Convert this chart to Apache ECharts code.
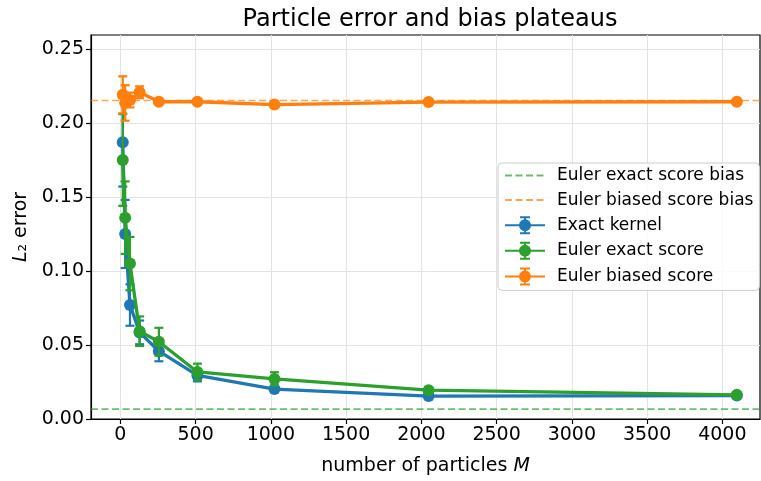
<!DOCTYPE html>
<html>
<head>
<meta charset="utf-8">
<script src="https://cdn.jsdelivr.net/npm/echarts@6/dist/echarts.min.js"></script>
<style>
  html, body { margin: 0; padding: 0; background: #fff; }
  #chart { width: 761px; height: 481px; }
</style>
</head>
<body>
<div id="chart"></div>
<script>
// values
const particles = [16, 32, 64, 128, 256, 512, 1024, 2048, 4096]
const exactKernel = [0.187, 0.125, 0.077, 0.0585, 0.0458, 0.0294, 0.0202, 0.0155, 0.0158]
const exactKernelErr = [0.030, 0.023, 0.014, 0.008, 0.0068, 0.004, 0.002, 0.0012, 0.0015]
const eulerExact = [0.175, 0.136, 0.105, 0.0593, 0.0522, 0.0318, 0.0271, 0.0195, 0.0163]
const eulerExactErr = [0.031, 0.0245, 0.018, 0.010, 0.0094, 0.0056, 0.0045, 0.002, 0.0018]
const eulerBiased = [0.219, 0.2135, 0.2155, 0.2207, 0.2143, 0.2143, 0.2124, 0.2141, 0.2143]
const eulerBiasedErr = [0.0125, 0.012, 0.005, 0.004, 0.0015, 0.0015, 0.001, 0.001, 0.001]
const exactScoreBias = 0.0067
const biasedScoreBias = 0.2152
const xRange = [-195, 4250]
const yRange = [0, 0.2594]
const xTicks = [0, 500, 1000, 1500, 2000, 2500, 3000, 3500, 4000]
const yTicks = [0, 0.05, 0.1, 0.15, 0.2, 0.25]

const BLUE = '#1f77b4'
const GREEN = '#2ca02c'
const ORANGE = '#ff7f0e'
const FONT = 'DejaVu Sans'

// legend glyph: line + error bar + dot
const errIcon = 'path://M0 9H40V11H0Z M19 2H21V18H19Z M15 1H25V3H15Z M15 17H25V19H15Z M26 10A6 6 0 1 1 14 10A6 6 0 1 1 26 10Z'

function errorBars(name, color, values, errs, z) {
  return {
    type: 'custom',
    name,
    z,
    silent: true,
    data: particles.map((m, i) => [m, values[i] - errs[i], values[i] + errs[i]]),
    encode: { x: 0, y: [1, 2] },
    renderItem(params, api) {
      const lo = api.coord([api.value(0), api.value(1)])
      const hi = api.coord([api.value(0), api.value(2)])
      const w = 4.5
      const style = { stroke: color, lineWidth: 2.2 }
      return {
        type: 'group',
        children: [
          { type: 'line', shape: { x1: lo[0], y1: lo[1], x2: hi[0], y2: hi[1] }, style },
          { type: 'line', shape: { x1: lo[0] - w, y1: lo[1], x2: lo[0] + w, y2: lo[1] }, style },
          { type: 'line', shape: { x1: hi[0] - w, y1: hi[1], x2: hi[0] + w, y2: hi[1] }, style },
        ],
      }
    },
  }
}

function dataLine(name, color, values, z) {
  return {
    type: 'line',
    name,
    z,
    data: particles.map((m, i) => [m, values[i]]),
    symbol: 'circle',
    symbolSize: 12,
    itemStyle: { color },
    lineStyle: { color, width: 3.3 },
    emphasis: { disabled: true },
  }
}

// horizontal reference line across the whole x range
function biasLine(name, color, value) {
  return {
    type: 'line',
    name,
    z: 1,
    data: xRange.map((x) => [x, value]),
    symbol: 'none',
    showSymbol: false,
    silent: true,
    itemStyle: { color, opacity: 0 },
    lineStyle: { color, width: 1.6, type: [7, 3.5], opacity: 0.7 },
    emphasis: { disabled: true },
  }
}

const chart = echarts.init(document.getElementById('chart'))
chart.setOption({
  animation: false,
  textStyle: { fontFamily: FONT },
  title: {
    text: 'Particle error and bias plateaus',
    left: 425,
    textAlign: 'center',
    top: 3,
    textStyle: { fontFamily: FONT, fontSize: 24, fontWeight: 'normal', color: '#000' },
  },
  grid: {
    left: 91, right: 1, top: 35, bottom: 60,
    show: true, borderColor: '#000', borderWidth: 1.2, backgroundColor: 'transparent',
  },
  legend: {
    orient: 'vertical',
    left: 498,
    top: 163,
    padding: [4, 6, 5, 6],
    itemWidth: 40,
    itemHeight: 20,
    itemGap: 7.6,
    borderColor: '#cccccc',
    borderWidth: 1,
    borderRadius: 4,
    backgroundColor: 'rgba(255,255,255,0.8)',
    textStyle: { fontFamily: FONT, fontSize: 17, color: '#000', padding: [0, 0, 0, 7] },
    data: [
      { name: 'Euler exact score bias', itemStyle: { opacity: 0 } },
      { name: 'Euler biased score bias', itemStyle: { opacity: 0 } },
      { name: 'Exact kernel', icon: errIcon },
      { name: 'Euler exact score', icon: errIcon },
      { name: 'Euler biased score', icon: errIcon },
    ],
  },
  xAxis: {
    type: 'value',
    min: xRange[0],
    max: xRange[1],
    name: 'number of particles {i|M}',
    nameLocation: 'middle',
    nameGap: 38,
    nameTextStyle: {
      fontFamily: FONT, fontSize: 19, color: '#000',
      rich: { i: { fontFamily: FONT, fontSize: 19, fontStyle: 'italic', color: '#000' } },
    },
    axisLine: { onZero: false, lineStyle: { color: '#000', width: 1.2 } },
    axisTick: { length: 5, lineStyle: { color: '#000', width: 1.2 }, customValues: xTicks },
    axisLabel: {
      fontFamily: FONT, fontSize: 19, color: '#000', margin: 7, customValues: xTicks,
      formatter: (v) => String(v),
    },
    splitLine: { show: true, lineStyle: { color: '#e3e3e3', width: 1 } },
  },
  yAxis: {
    type: 'value',
    min: yRange[0],
    max: yRange[1],
    name: '{i|L}₂ error',
    nameLocation: 'middle',
    nameGap: 55,
    nameTextStyle: {
      fontFamily: FONT, fontSize: 19, color: '#000',
      rich: { i: { fontFamily: FONT, fontSize: 19, fontStyle: 'italic', color: '#000' } },
    },
    axisLine: { show: true, onZero: false, lineStyle: { color: '#000', width: 1.2 } },
    axisTick: { show: true, length: 5, lineStyle: { color: '#000', width: 1.2 }, customValues: yTicks },
    axisLabel: {
      fontFamily: FONT, fontSize: 19, color: '#000', margin: 7, customValues: yTicks,
      formatter: (v) => v.toFixed(2),
    },
    splitLine: { show: true, lineStyle: { color: '#e3e3e3', width: 1 } },
  },
  series: [
    biasLine('Euler exact score bias', GREEN, exactScoreBias),
    biasLine('Euler biased score bias', ORANGE, biasedScoreBias),
    errorBars('Exact kernel err', BLUE, exactKernel, exactKernelErr, 2),
    dataLine('Exact kernel', BLUE, exactKernel, 2),
    errorBars('Euler exact score err', GREEN, eulerExact, eulerExactErr, 3),
    dataLine('Euler exact score', GREEN, eulerExact, 3),
    errorBars('Euler biased score err', ORANGE, eulerBiased, eulerBiasedErr, 4),
    dataLine('Euler biased score', ORANGE, eulerBiased, 4),
  ],
})
</script>
</body>
</html>
